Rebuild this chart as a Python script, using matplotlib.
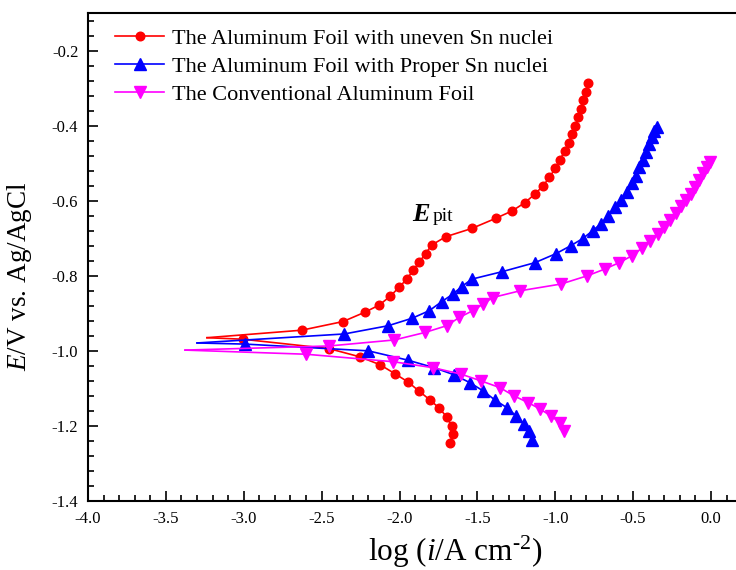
import matplotlib
matplotlib.use("Agg")
import matplotlib.pyplot as plt
from matplotlib.ticker import MultipleLocator

plt.rcParams['font.family'] = ['Liberation Serif', 'DejaVu Serif']
plt.rcParams['mathtext.fontset'] = 'custom'
plt.rcParams['mathtext.rm'] = 'Liberation Serif'
plt.rcParams['mathtext.it'] = 'Liberation Serif:italic'
plt.rcParams['mathtext.bf'] = 'Liberation Serif:bold'

labels = ["The Aluminum Foil with uneven Sn nuclei",
          "The Aluminum Foil with Proper Sn nuclei",
          "The Conventional Aluminum Foil"]

# Uneven Sn nuclei (red)
red_anodic_x = [-3.236, -2.628, -2.363, -2.222, -2.130, -2.061, -2.003, -1.954, -1.911, -1.873,
                -1.832, -1.793, -1.703, -1.536, -1.382, -1.276, -1.194, -1.130, -1.077, -1.038,
                -1.000, -0.970, -0.939, -0.914, -0.891, -0.871, -0.854, -0.837, -0.820, -0.804, -0.792]
red_anodic_y = [-0.965, -0.945, -0.922, -0.897, -0.878, -0.855, -0.831, -0.809, -0.785, -0.763,
                -0.741, -0.718, -0.696, -0.674, -0.647, -0.627, -0.605, -0.582, -0.560, -0.538,
                -0.514, -0.491, -0.467, -0.445, -0.422, -0.400, -0.378, -0.355, -0.331, -0.311, -0.287]
red_cath_x = [-3.236, -3.007, -2.453, -2.254, -2.125, -2.029, -1.945, -1.875, -1.804, -1.746,
              -1.697, -1.665, -1.658, -1.676]
red_cath_y = [-0.965, -0.969, -0.994, -1.016, -1.037, -1.061, -1.083, -1.107, -1.131, -1.152,
              -1.176, -1.200, -1.221, -1.245]

# Proper Sn nuclei (blue)
blue_anodic_x = [-3.300, -2.354, -2.072, -1.918, -1.809, -1.729, -1.658, -1.601, -1.536, -1.340,
                 -1.130, -0.995, -0.901, -0.824, -0.760, -0.706, -0.659, -0.616, -0.578, -0.541,
                 -0.509, -0.482, -0.460, -0.439, -0.417, -0.396, -0.377, -0.364, -0.349]
blue_anodic_y = [-0.979, -0.955, -0.933, -0.913, -0.893, -0.869, -0.849, -0.829, -0.809, -0.789,
                 -0.765, -0.741, -0.720, -0.701, -0.680, -0.661, -0.640, -0.618, -0.597, -0.576,
                 -0.553, -0.533, -0.511, -0.491, -0.469, -0.449, -0.429, -0.415, -0.405]
blue_cath_x = [-3.300, -2.992, -2.200, -1.944, -1.777, -1.648, -1.547, -1.462, -1.387, -1.312,
               -1.252, -1.201, -1.167, -1.151]
blue_cath_y = [-0.979, -0.982, -1.000, -1.025, -1.045, -1.064, -1.085, -1.107, -1.131, -1.151,
               -1.173, -1.194, -1.213, -1.238]

# Conventional foil (magenta)
mag_anodic_x = [-3.377, -2.451, -2.033, -1.836, -1.697, -1.616, -1.530, -1.462, -1.402, -1.226,
                -0.963, -0.794, -0.681, -0.589, -0.509, -0.445, -0.392, -0.342, -0.300, -0.263,
                -0.227, -0.193, -0.161, -0.130, -0.103, -0.075, -0.053, -0.028, -0.005]
mag_anodic_y = [-0.998, -0.987, -0.971, -0.951, -0.933, -0.911, -0.893, -0.875, -0.858, -0.840,
                -0.822, -0.800, -0.782, -0.765, -0.747, -0.727, -0.707, -0.689, -0.669, -0.651,
                -0.634, -0.615, -0.598, -0.581, -0.563, -0.545, -0.527, -0.509, -0.497]
mag_cath_x = [-3.377, -2.600, -2.040, -1.783, -1.605, -1.477, -1.355, -1.265, -1.173, -1.098,
              -1.029, -0.970, -0.944]
mag_cath_y = [-0.998, -1.009, -1.029, -1.045, -1.062, -1.080, -1.098, -1.120, -1.138, -1.155,
              -1.173, -1.191, -1.213]

series = [
    (red_anodic_x, red_anodic_y, red_cath_x, red_cath_y, '#ff0000', 'o', 6.2),
    (blue_anodic_x, blue_anodic_y, blue_cath_x, blue_cath_y, '#0000ff', '^', 8),
    (mag_anodic_x, mag_anodic_y, mag_cath_x, mag_cath_y, '#ff00ff', 'v', 8),
]

fig = plt.figure(figsize=(7.36, 5.70), dpi=100)
ax = fig.add_axes([88/736, 1-501/570, (736-88)/736, (501-13)/570])

handles = []
for (ax_x, ax_y, cx, cy, col, mk, ms), lab in zip(series, labels):
    h, = ax.plot(ax_x, ax_y, color=col, lw=1.2, marker=mk, ms=ms, markevery=slice(1, None),
                 label=lab)
    ax.plot(cx, cy, color=col, lw=1.2, marker=mk, ms=ms, markevery=slice(1, None))
    handles.append(h)

ax.set_xlim(-4.0, (736-711)/155.75)
ax.set_ylim(-1.4, -0.1)
ax.xaxis.set_minor_locator(MultipleLocator(0.1))
ax.yaxis.set_minor_locator(MultipleLocator(0.04))
ax.set_yticks([-1.4, -1.2, -1.0, -0.8, -0.6, -0.4, -0.2])
ax.set_xticks([-4.0, -3.5, -3.0, -2.5, -2.0, -1.5, -1.0, -0.5, 0.0])
ax.set_xticklabels(['-4.0', '-3.5', '-3.0', '-2.5', '-2.0', '-1.5', '-1.0', '-0.5', '0.0'])
ax.set_yticklabels(['-1.4', '-1.2', '-1.0', '-0.8', '-0.6', '-0.4', '-0.2'])
ax.tick_params(which='both', direction='in', top=False, right=False, labelsize=12, width=1.2)
ax.tick_params(which='major', length=7, pad=7)
ax.tick_params(which='minor', length=4)
for s in ['left', 'bottom', 'top']:
    ax.spines[s].set_linewidth(1.5)
ax.spines['right'].set_visible(False)

ax.set_xlabel(r'log ($i$/A cm$^{\text{-}2}$)', fontsize=22.5)
ax.xaxis.set_label_coords(0.566, -0.068)
ax.set_ylabel(r'$E$/V vs. Ag/AgCl', fontsize=19.5)
ax.yaxis.set_label_coords(-0.083, 0.46)

ax.text(-1.92, -0.655, 'E', fontsize=19, fontweight='bold', fontstyle='italic',
        ha='left', va='baseline')
ax.text(-1.79, -0.655, 'pit', fontsize=14, ha='left', va='baseline')

ax.legend(handles=handles, loc='upper left', bbox_to_anchor=(0.042, 0.968), frameon=False,
          fontsize=16, numpoints=1, handlelength=2.2, handletextpad=0.35, labelspacing=0.32,
          borderpad=0, borderaxespad=0)

fig.savefig('out.png', dpi=100)
